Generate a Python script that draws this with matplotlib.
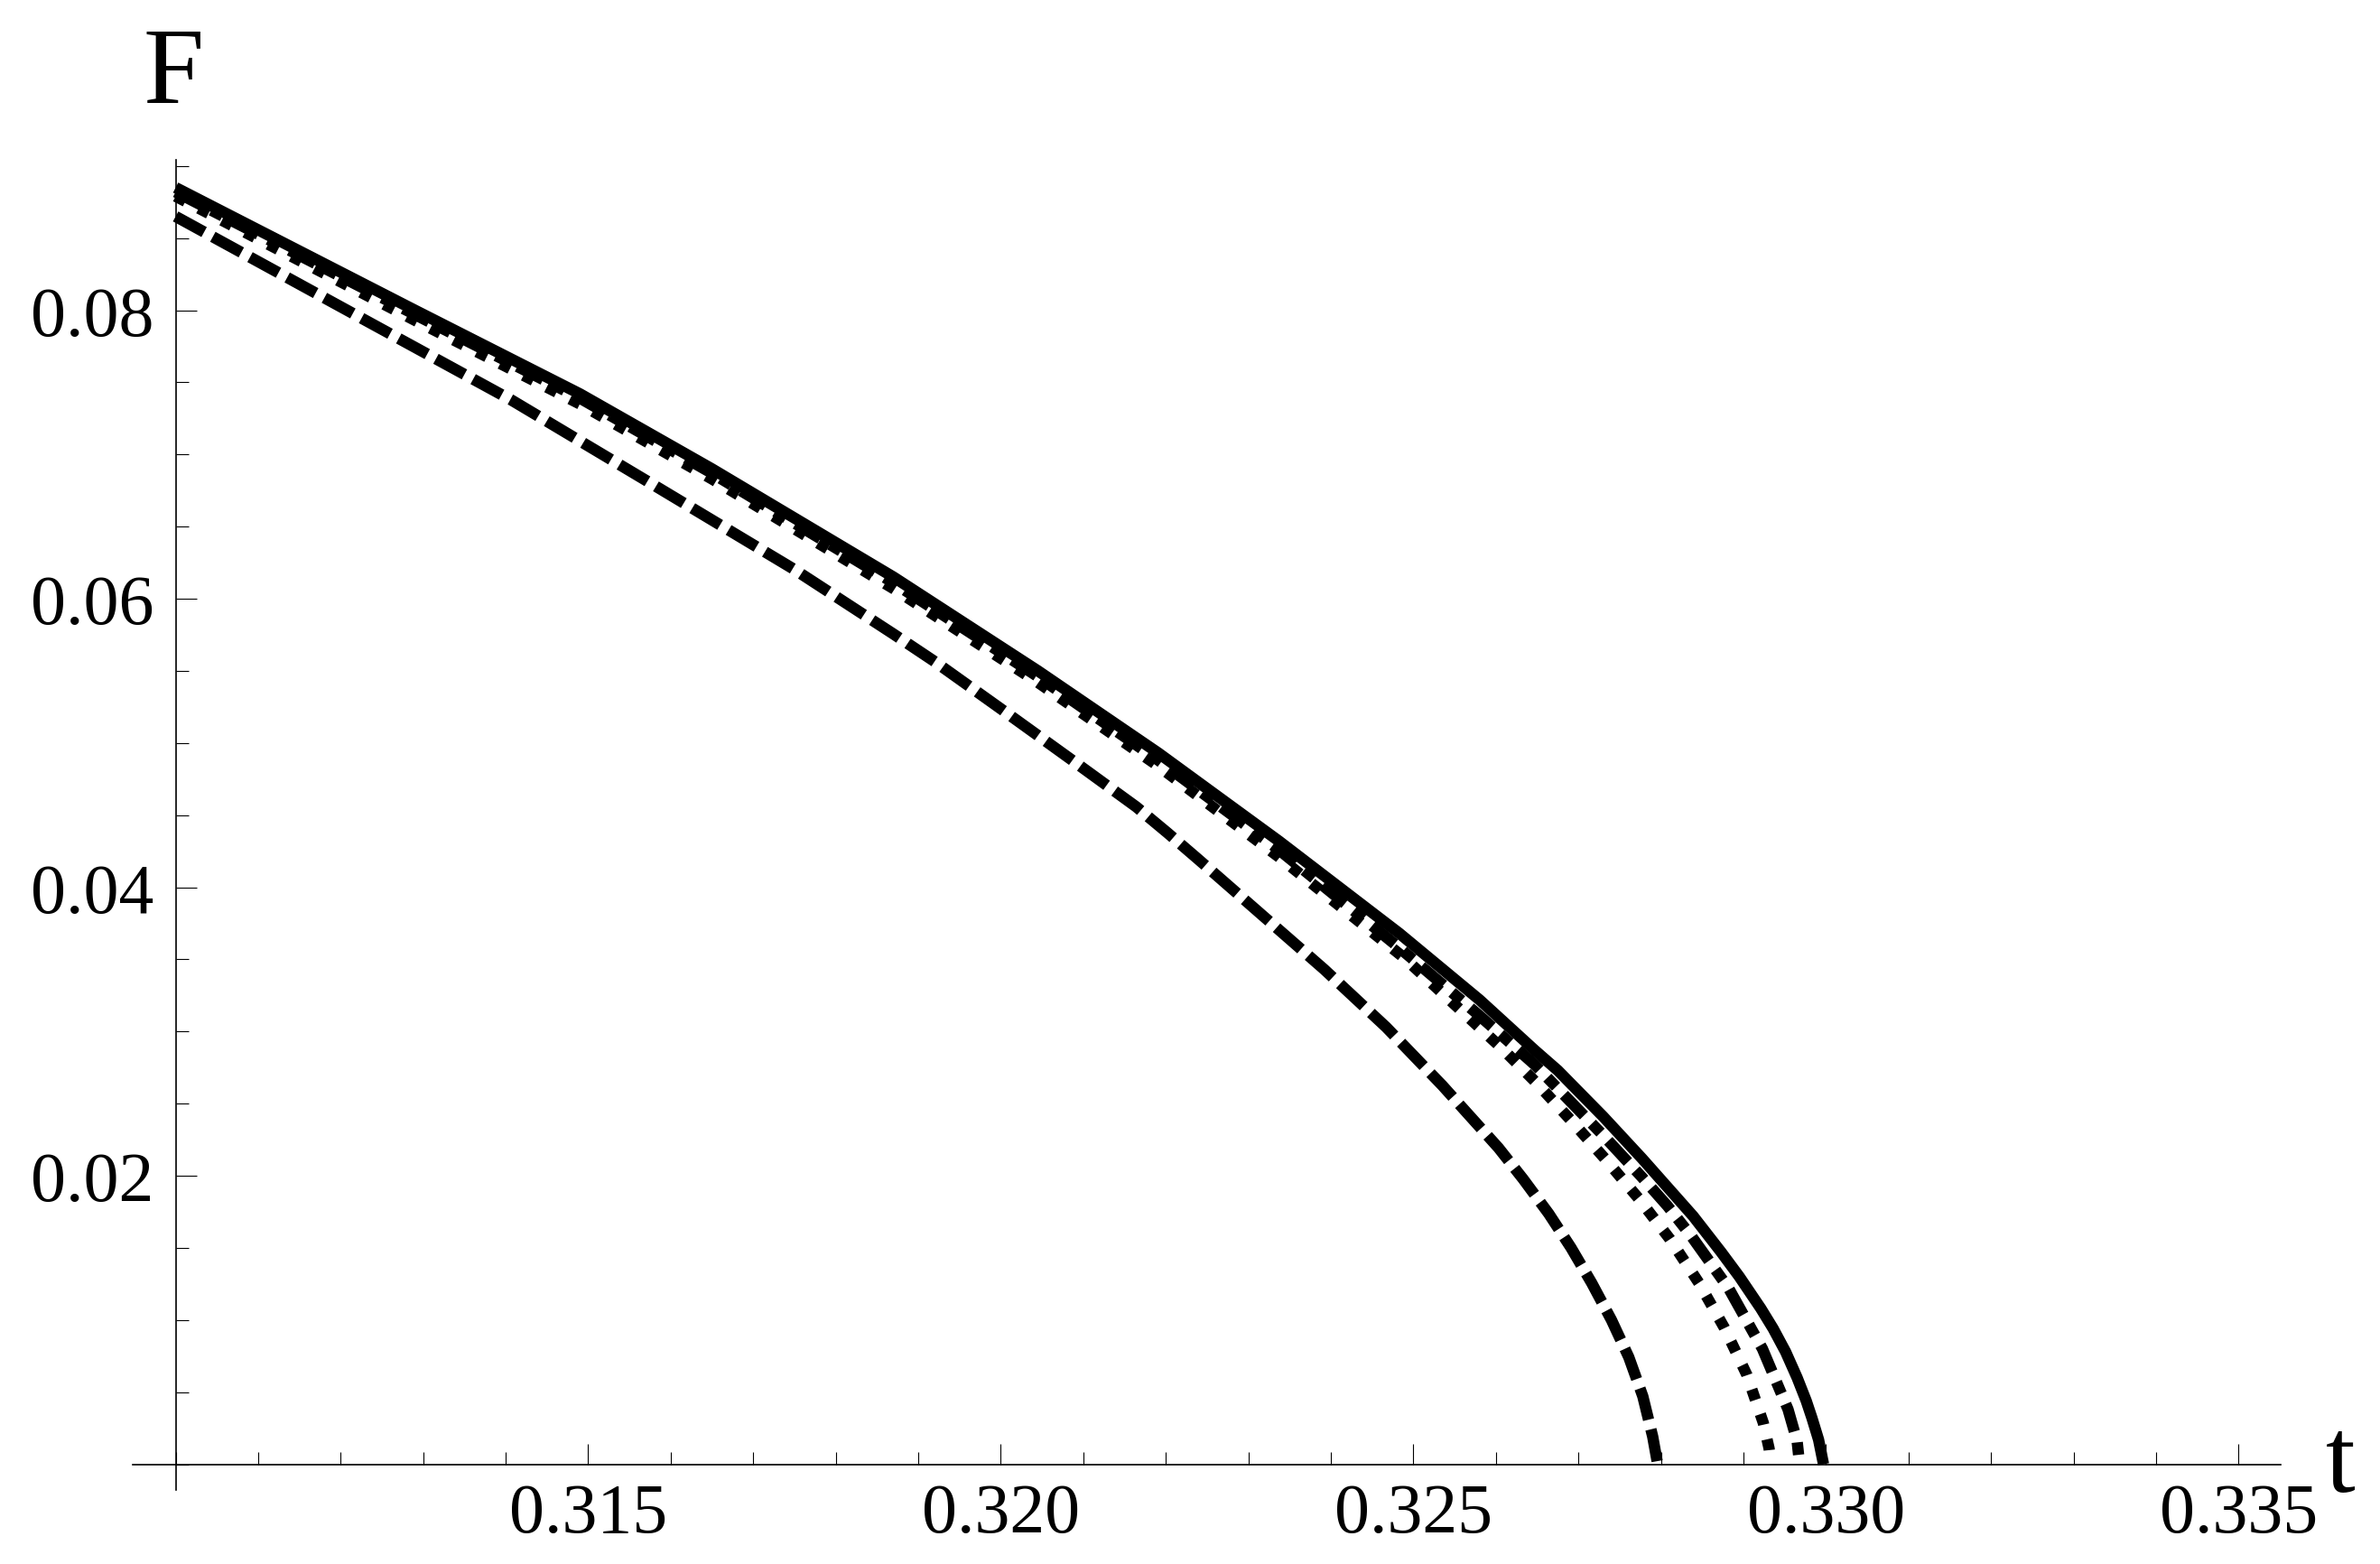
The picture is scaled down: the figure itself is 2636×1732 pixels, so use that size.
import matplotlib
matplotlib.use("Agg")
import matplotlib.pyplot as plt
from matplotlib.ticker import FixedLocator, FixedFormatter, MultipleLocator

# --- data ---
t_solid = [0.3100, 0.3129, 0.3149, 0.3165, 0.3187, 0.32045, 0.32191, 0.32337,
           0.32483, 0.3258, 0.32647, 0.32675, 0.3273, 0.32777, 0.32839,
           0.32873, 0.32895, 0.32921, 0.32936, 0.32951, 0.32965, 0.32976,
           0.32983, 0.32991, 0.32997]
F_solid = [0.0885, 0.0800, 0.0742, 0.0690, 0.0615, 0.0550, 0.0493, 0.0432,
           0.0368, 0.0322, 0.0287, 0.0273, 0.0241, 0.0212, 0.0172,
           0.0147, 0.0130, 0.0108, 0.0094, 0.0078, 0.0060, 0.0044,
           0.0032, 0.0017, 0.0]

t_dashdot = [0.3100, 0.3129, 0.3149, 0.3165, 0.3187, 0.32045, 0.32191, 0.32337,
             0.32483, 0.3258, 0.32647, 0.3273, 0.32777, 0.32808, 0.32837,
             0.32882, 0.32923, 0.32954, 0.32965, 0.32968]
F_dashdot = [0.0882, 0.0797, 0.0739, 0.0687, 0.0611, 0.0546, 0.0488, 0.0426,
             0.0358, 0.0311, 0.0277, 0.0228, 0.0199, 0.0179, 0.0158,
             0.0122, 0.0080, 0.0038, 0.0016, 0.0]

t_dotted = [0.3100, 0.3129, 0.3149, 0.3165, 0.3187, 0.32045, 0.32191, 0.32337,
            0.32489, 0.32607, 0.32649, 0.32691, 0.32733, 0.32773, 0.32811,
            0.32846, 0.32877, 0.32904, 0.32924, 0.32931, 0.32933]
F_dotted = [0.0879, 0.0793, 0.0735, 0.0683, 0.0607, 0.0542, 0.0484, 0.0421,
            0.0351, 0.02885, 0.02645, 0.02384, 0.02113, 0.01842, 0.01560,
            0.01257, 0.00944, 0.00621, 0.00287, 0.0011, 0.0]

t_dashed = [0.3100, 0.31231, 0.31407, 0.31580, 0.31750, 0.31870, 0.31920,
            0.32002, 0.32083, 0.32164, 0.32202, 0.32239, 0.32314, 0.32392,
            0.32467, 0.32535, 0.32603, 0.32633, 0.32664, 0.32691, 0.32716,
            0.32740, 0.32761, 0.32778, 0.32790, 0.32796]
F_dashed = [0.0865, 0.07927, 0.07377, 0.06786, 0.06202, 0.05755, 0.05564,
            0.05229, 0.04895, 0.04558, 0.04377, 0.04195, 0.0382, 0.0343,
            0.0303, 0.02626, 0.02194, 0.01977, 0.01737, 0.01501, 0.01257,
            0.01000, 0.00742, 0.00471, 0.00191, 0.0]

x_ticks = [0.315, 0.320, 0.325, 0.330, 0.335]
x_labels = ["0.315", "0.320", "0.325", "0.330", "0.335"]
y_ticks = [0.02, 0.04, 0.06, 0.08]
y_labels = ["0.02", "0.04", "0.06", "0.08"]

plt.rcParams["font.family"] = "Liberation Serif"
plt.rcParams["lines.scale_dashes"] = False

W, H = 2636, 1733
fig = plt.figure(figsize=(W / 100, H / 100), dpi=100)

# axes box in pixels (from top-left), x 0.30948..0.33551, y -0.00175..0.0904
left, right, top, bottom = 147, 2526, 178.4, 1650.5
ax = fig.add_axes([left / W, 1 - bottom / H, (right - left) / W, (bottom - top) / H])
ax.set_xlim(0.30948, 0.33551)
ax.set_ylim(-0.00175, 0.0904)

lw = 9
ax.plot(t_dashed, F_dashed, color="black", lw=lw, dashes=(25.9, 7.9))
ax.plot(t_dotted, F_dotted, color="black", lw=lw, dashes=(8.8, 12.0))
ax.plot(t_dashdot, F_dashdot, color="black", lw=lw, dashes=(23.0, 9.0, 10.0, 9.0))
ax.plot(t_solid, F_solid, color="black", lw=lw, solid_capstyle="butt",
        solid_joinstyle="round")

for s in ["top", "right"]:
    ax.spines[s].set_visible(False)
ax.spines["left"].set_position(("data", 0.310))
ax.spines["bottom"].set_position(("data", 0.0))
for s in ["left", "bottom"]:
    ax.spines[s].set_linewidth(1.2)

ax.xaxis.set_major_locator(FixedLocator(x_ticks))
ax.xaxis.set_major_formatter(FixedFormatter(x_labels))
ax.yaxis.set_major_locator(FixedLocator(y_ticks))
ax.yaxis.set_major_formatter(FixedFormatter(y_labels))
ax.xaxis.set_minor_locator(MultipleLocator(0.001))
ax.yaxis.set_minor_locator(MultipleLocator(0.005))

ax.tick_params(which="major", direction="in", length=16.6, width=0.8, labelsize=56)
ax.tick_params(which="minor", direction="in", length=10, width=0.8)
ax.tick_params(axis="x", which="major", pad=14)
ax.tick_params(axis="y", which="major", pad=17.6)

fig.text(192 / W, 1 - 114 / H, "F", fontsize=87, ha="center", va="baseline")
fig.text(2576 / W, 1 - 1652 / H, "t", fontsize=85, ha="left", va="baseline")

fig.savefig("out.png", dpi=100, facecolor="white")
